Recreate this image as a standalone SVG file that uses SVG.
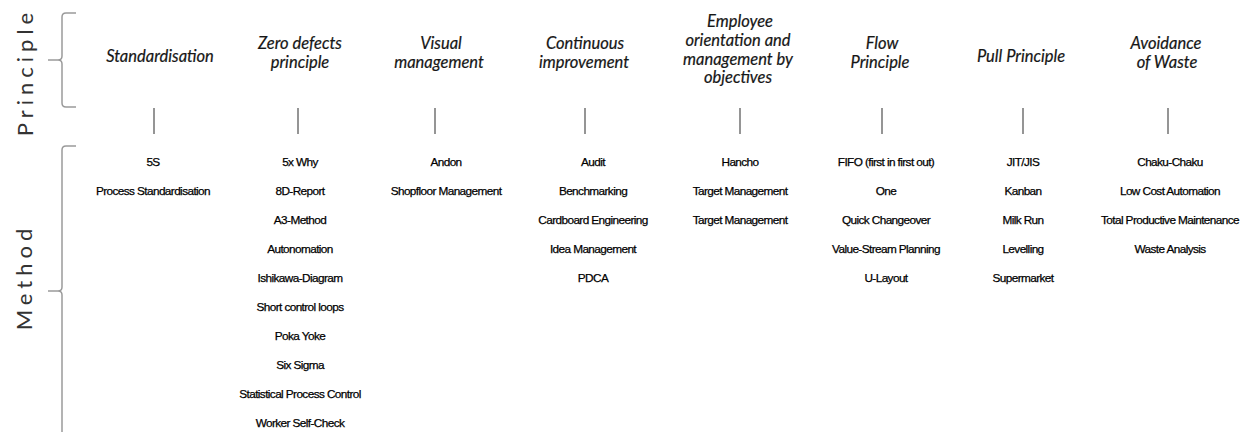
<svg xmlns="http://www.w3.org/2000/svg" width="1250" height="432" viewBox="0 0 1250 432">
  <style>
    .side { font-family: Lato, "Open Sans", sans-serif; font-size: 22px; letter-spacing: 5px; fill: #333; text-anchor: middle; }
    .brace { fill: none; stroke: #9a9a9a; stroke-width: 1.5; }
    .tick { stroke: #8a8a8a; stroke-width: 1.8; }
    .head { font-family: Lato, "Open Sans", sans-serif; font-style: italic; font-size: 16.5px; fill: #161616; stroke: #161616; stroke-width: 0.2; text-anchor: middle; }
    .meth { font-family: "Liberation Sans", Arial, sans-serif; font-size: 11.8px; letter-spacing: -0.6px; fill: #000; stroke: #000; stroke-width: 0.25; text-anchor: middle; }
  </style>

  <!-- Row labels with braces -->
  <g id="label-principle">
    <text class="side" transform="translate(33,72) rotate(-90)">Principle</text>
    <path class="brace" d="M76,13 H66 Q62,13 62,17 V56 Q62,60 58,60 H48 M58,60 Q62,60 62,64 V103 Q62,107 66,107 H76"/>
  </g>
  <g id="label-method">
    <text class="side" transform="translate(32,277) rotate(-90)">Method</text>
    <path class="brace" d="M76,146 H66 Q62,146 62,150 V287 Q62,291 58,291 H48 M58,291 Q62,291 62,295 V440"/>
  </g>

  <!-- Principle headings -->
  <g id="p-standardisation"><text class="head" x="160" y="62">Standardisation</text></g>
  <g id="p-zero-defects"><text class="head" x="300" y="49">Zero defects</text><text class="head" x="300" y="68">principle</text></g>
  <g id="p-visual"><text class="head" x="441" y="49">Visual</text><text class="head" x="439" y="68">management</text></g>
  <g id="p-continuous"><text class="head" x="585" y="49">Continuous</text><text class="head" x="584" y="68">improvement</text></g>
  <g id="p-employee">
    <text class="head" x="740" y="27">Employee</text>
    <text class="head" x="738" y="46">orientation and</text>
    <text class="head" x="738" y="65">management by</text>
    <text class="head" x="738" y="83">objectives</text>
  </g>
  <g id="p-flow"><text class="head" x="882" y="49">Flow</text><text class="head" x="880" y="68">Principle</text></g>
  <g id="p-pull"><text class="head" x="1021" y="62">Pull Principle</text></g>
  <g id="p-waste"><text class="head" x="1166" y="49">Avoidance</text><text class="head" x="1167" y="68">of Waste</text></g>

  <!-- Connectors between principles and methods -->
  <g id="connectors">
    <line class="tick" x1="154" y1="108" x2="154" y2="134"/>
    <line class="tick" x1="298" y1="108" x2="298" y2="134"/>
    <line class="tick" x1="435" y1="108" x2="435" y2="134"/>
    <line class="tick" x1="585" y1="108" x2="585" y2="134"/>
    <line class="tick" x1="740" y1="108" x2="740" y2="134"/>
    <line class="tick" x1="882" y1="108" x2="882" y2="134"/>
    <line class="tick" x1="1023" y1="108" x2="1023" y2="134"/>
    <line class="tick" x1="1168" y1="108" x2="1168" y2="134"/>
  </g>

  <!-- Method lists -->
  <g id="m-standardisation">
    <text class="meth" x="153" y="166">5S</text>
    <text class="meth" x="153" y="195">Process Standardisation</text>
  </g>
  <g id="m-zero-defects">
    <text class="meth" x="300" y="166">5x Why</text>
    <text class="meth" x="300" y="195">8D-Report</text>
    <text class="meth" x="300" y="224">A3-Method</text>
    <text class="meth" x="300" y="253">Autonomation</text>
    <text class="meth" x="300" y="282">Ishikawa-Diagram</text>
    <text class="meth" x="300" y="311">Short control loops</text>
    <text class="meth" x="300" y="340">Poka Yoke</text>
    <text class="meth" x="300" y="369">Six Sigma</text>
    <text class="meth" x="300" y="398">Statistical Process Control</text>
    <text class="meth" x="300" y="427">Worker Self-Check</text>
  </g>
  <g id="m-visual">
    <text class="meth" x="446" y="166">Andon</text>
    <text class="meth" x="446" y="195">Shopfloor Management</text>
  </g>
  <g id="m-continuous">
    <text class="meth" x="593" y="166">Audit</text>
    <text class="meth" x="593" y="195">Benchmarking</text>
    <text class="meth" x="593" y="224">Cardboard Engineering</text>
    <text class="meth" x="593" y="253">Idea Management</text>
    <text class="meth" x="593" y="282">PDCA</text>
  </g>
  <g id="m-employee">
    <text class="meth" x="740" y="166">Hancho</text>
    <text class="meth" x="740" y="195">Target Management</text>
    <text class="meth" x="740" y="224">Target Management</text>
  </g>
  <g id="m-flow">
    <text class="meth" x="886" y="166">FIFO (first in first out)</text>
    <text class="meth" x="886" y="195">One</text>
    <text class="meth" x="886" y="224">Quick Changeover</text>
    <text class="meth" x="886" y="253">Value-Stream Planning</text>
    <text class="meth" x="886" y="282">U-Layout</text>
  </g>
  <g id="m-pull">
    <text class="meth" x="1023" y="166">JIT/JIS</text>
    <text class="meth" x="1023" y="195">Kanban</text>
    <text class="meth" x="1023" y="224">Milk Run</text>
    <text class="meth" x="1023" y="253">Levelling</text>
    <text class="meth" x="1023" y="282">Supermarket</text>
  </g>
  <g id="m-waste">
    <text class="meth" x="1170" y="166">Chaku-Chaku</text>
    <text class="meth" x="1170" y="195">Low Cost Automation</text>
    <text class="meth" x="1170" y="224">Total Productive Maintenance</text>
    <text class="meth" x="1170" y="253">Waste Analysis</text>
  </g>
</svg>
